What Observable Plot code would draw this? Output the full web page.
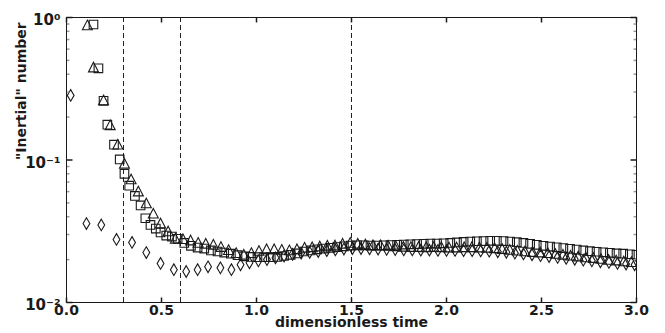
<!DOCTYPE html>
<html>
<head>
<meta charset="utf-8">
<script src="https://cdn.jsdelivr.net/npm/d3@7"></script>
<script src="https://cdn.jsdelivr.net/npm/@observablehq/plot@0.6"></script>
<style>
  html, body { margin: 0; padding: 0; background: #fff; }
  #chart { width: 665px; height: 333px; }
</style>
</head>
<body>
<div id="chart"></div>
<script>
// ---- data (time, "inertial" number) ----
const squares = [
  [0.142,0.893],[0.168,0.44],[0.195,0.26],[0.215,0.177],[0.25,0.128],[0.28,0.101],
  [0.305,0.080],[0.33,0.066],[0.36,0.056],[0.39,0.048],[0.415,0.039],[0.442,0.035],
  [0.47,0.033],[0.495,0.031],[0.525,0.0295],[0.555,0.029],
  [0.585,0.0280],[0.62,0.0262],[0.655,0.0250],[0.69,0.0243],[0.725,0.0239],[0.76,0.0232],
  [0.795,0.0228],[0.83,0.0224],[0.865,0.0220],[0.90,0.0215],[0.935,0.0211],[0.97,0.0209],
  [1.005,0.0208],[1.04,0.0208],[1.075,0.0208],[1.11,0.0209],[1.145,0.0212],[1.18,0.0216],
  [1.215,0.0221],[1.25,0.0228],[1.285,0.0232],[1.32,0.0236],[1.355,0.0239],[1.39,0.0242],
  [1.425,0.0245],[1.46,0.0248],[1.495,0.0251],[1.53,0.0252],[1.565,0.0252],[1.60,0.0251],
  [1.635,0.0251],[1.67,0.0252],[1.705,0.0253],[1.74,0.0254],[1.775,0.0255],[1.81,0.0256],
  [1.845,0.0257],[1.88,0.0258],[1.915,0.0259],[1.95,0.0259],[1.985,0.0260],[2.02,0.0262],
  [2.055,0.0264],[2.09,0.0266],[2.125,0.0268],[2.16,0.0269],[2.195,0.0270],[2.23,0.0271],
  [2.265,0.0271],[2.30,0.0270],[2.335,0.0268],[2.37,0.0265],[2.405,0.0262],[2.44,0.0258],
  [2.475,0.0254],[2.51,0.0250],[2.545,0.0247],[2.58,0.0244],[2.615,0.0241],[2.65,0.0238],
  [2.685,0.0235],[2.72,0.0232],[2.755,0.0229],[2.79,0.0227],[2.825,0.0225],[2.86,0.0223],
  [2.895,0.0221],[2.93,0.0220],[2.965,0.0218],[3.0,0.0216]
];
const triangles = [
  [0.11,0.88],[0.142,0.445],[0.195,0.262],[0.23,0.175],[0.27,0.128],[0.305,0.094],
  [0.34,0.073],[0.378,0.060],[0.42,0.0495],[0.457,0.042],[0.495,0.0358],[0.535,0.0315],
  [0.573,0.028],
  [0.613,0.0278],[0.653,0.0272],[0.693,0.0262],[0.733,0.0258],[0.773,0.0254],[0.813,0.0245],
  [0.853,0.0233],[0.893,0.0222],[0.933,0.0216],[0.973,0.0222],[1.013,0.0230],[1.053,0.0236],
  [1.093,0.0236],[1.133,0.0234],[1.173,0.0232],[1.213,0.0236],[1.253,0.0242],[1.293,0.0244],
  [1.333,0.0247],[1.373,0.0250],[1.413,0.0251],[1.453,0.0258],[1.493,0.0262],[1.533,0.0258],
  [1.573,0.0255],[1.613,0.0252],[1.653,0.0252],[1.693,0.0250],[1.733,0.0248],[1.773,0.0246],
  [1.813,0.0245],[1.853,0.0245],[1.893,0.0244],[1.933,0.0245],[1.973,0.0244],[2.013,0.0243],
  [2.053,0.0243],[2.093,0.0244],[2.133,0.0244],[2.173,0.0243],[2.213,0.0242],[2.253,0.0240],
  [2.293,0.0237],[2.333,0.0234],[2.373,0.0231],[2.413,0.0228],[2.453,0.0226],[2.493,0.0224],
  [2.533,0.0222],[2.573,0.0219],[2.613,0.0216],[2.653,0.0213],[2.693,0.0210],[2.733,0.0207],
  [2.773,0.0205],[2.813,0.0202],[2.853,0.0199],[2.893,0.0197],[2.933,0.0194],[2.973,0.0192]
];
const diamonds = [
  [0.022,0.284],[0.105,0.0358],[0.183,0.035],[0.263,0.0277],[0.345,0.0264],[0.42,0.0224],
  [0.495,0.0188],[0.565,0.0170],[0.63,0.0165],[0.69,0.0170],[0.745,0.0178],[0.81,0.0175],
  [0.868,0.0170],[0.916,0.0184],[0.963,0.0190],[1.01,0.0196],
  [1.055,0.0200],[1.10,0.0206],[1.145,0.0212],[1.19,0.0218],[1.235,0.0222],[1.28,0.0225],
  [1.325,0.0228],[1.37,0.0231],[1.415,0.0234],[1.46,0.0237],[1.505,0.0239],[1.55,0.0239],
  [1.595,0.0238],[1.64,0.0237],[1.685,0.0236],[1.73,0.0235],[1.775,0.0234],[1.82,0.0234],
  [1.865,0.0233],[1.91,0.0233],[1.955,0.0232],[2.0,0.0232],[2.045,0.0232],[2.09,0.0231],
  [2.135,0.0231],[2.18,0.0230],[2.225,0.0229],[2.27,0.0227],[2.315,0.0225],[2.36,0.0222],
  [2.405,0.0219],[2.45,0.0216],[2.495,0.0213],[2.54,0.0210],[2.585,0.0207],[2.63,0.0204],
  [2.675,0.0201],[2.72,0.0198],[2.765,0.0196],[2.81,0.0193],[2.855,0.0191],[2.90,0.0188],
  [2.945,0.0186],[2.99,0.0184]
];
const phaseTimes = [0.3, 0.6, 1.5];
const xTicks = [0.0, 0.5, 1.0, 1.5, 2.0, 2.5, 3.0];
const yMajor = [1, 0.1, 0.01];
const yMinor = [0.02,0.03,0.04,0.05,0.06,0.07,0.08,0.09,0.2,0.3,0.4,0.5,0.6,0.7,0.8,0.9];
const yTickLabels = {1: "10\u2070", 0.1: "10\u207B\u00B9", 0.01: "10\u207B\u00B2"};
const xLabel = "dimensionless time";
const yLabel = "\"Inertial\" number";

// ---- marker shapes (matplotlib-like hollow markers) ----
const symSquare = {draw(c){ const h=4.3; c.moveTo(-h,-h); c.lineTo(h,-h); c.lineTo(h,h); c.lineTo(-h,h); c.closePath(); }};
const symTriangle = {draw(c){ c.moveTo(0,-5.3); c.lineTo(5,4.3); c.lineTo(-5,4.3); c.closePath(); }};
const symDiamond = {draw(c){ c.moveTo(0,-5.8); c.lineTo(3.4,0); c.lineTo(0,5.8); c.lineTo(-3.4,0); c.closePath(); }};
const tickLen = (dx, dy) => ({draw(c){ c.moveTo(0,0); c.lineTo(dx,dy); }});

const font = "DejaVu Sans";
const ink = "#1a1a1a";

const chart = Plot.plot({
  width: 665,
  height: 333,
  marginLeft: 66,
  marginRight: 29,
  marginTop: 17,
  marginBottom: 31,
  style: {fontFamily: font, fontWeight: "bold", fontSize: "14px", background: "#fff", color: ink},
  x: {domain: [0, 3]},
  y: {type: "log", domain: [0.01, 1]},
  marks: [
    Plot.ruleX(phaseTimes, {x: d => d, stroke: "#222", strokeWidth: 1, strokeDasharray: "5,3"}),
    Plot.dot(squares, {x: d => d[0], y: d => d[1], symbol: symSquare, fill: "none", stroke: ink, strokeWidth: 1.1, clip: true}),
    Plot.dot(triangles, {x: d => d[0], y: d => d[1], symbol: symTriangle, fill: "none", stroke: ink, strokeWidth: 1.1, clip: true}),
    Plot.dot(diamonds, {x: d => d[0], y: d => d[1], symbol: symDiamond, fill: "none", stroke: ink, strokeWidth: 1.1, clip: true}),
    // inward ticks
    Plot.dot(xTicks, {x: d => d, frameAnchor: "bottom", symbol: tickLen(0, -5), fill: "none", stroke: ink}),
    Plot.dot(xTicks, {x: d => d, frameAnchor: "top", symbol: tickLen(0, 5), fill: "none", stroke: ink}),
    Plot.dot(yMajor, {y: d => d, frameAnchor: "left", symbol: tickLen(6, 0), fill: "none", stroke: ink}),
    Plot.dot(yMajor, {y: d => d, frameAnchor: "right", symbol: tickLen(-6, 0), fill: "none", stroke: ink}),
    Plot.dot(yMinor, {y: d => d, frameAnchor: "left", symbol: tickLen(3, 0), fill: "none", stroke: "#999"}),
    Plot.dot(yMinor, {y: d => d, frameAnchor: "right", symbol: tickLen(-3, 0), fill: "none", stroke: "#999"}),
    Plot.axisX({ticks: xTicks, tickSize: 0, tickPadding: 3, tickFormat: d3.format(".1f"), label: null, fontWeight: "bold", fontSize: 14}),
    Plot.axisY({ticks: yMajor, tickSize: 0, tickPadding: 6, tickFormat: d => yTickLabels[d], label: null, fontWeight: "bold", fontSize: 15, dy: 3}),
    Plot.text([xLabel], {text: d => d, frameAnchor: "bottom", dy: 24, fontWeight: "bold", fontSize: 14, fill: ink}),
    Plot.text([yLabel], {text: d => d, frameAnchor: "left", dx: -45, rotate: -90, fontWeight: "bold", fontSize: 14, fill: ink}),
    Plot.frame({stroke: ink, strokeWidth: 1})
  ]
});
document.getElementById("chart").appendChild(chart);
</script>
</body>
</html>
